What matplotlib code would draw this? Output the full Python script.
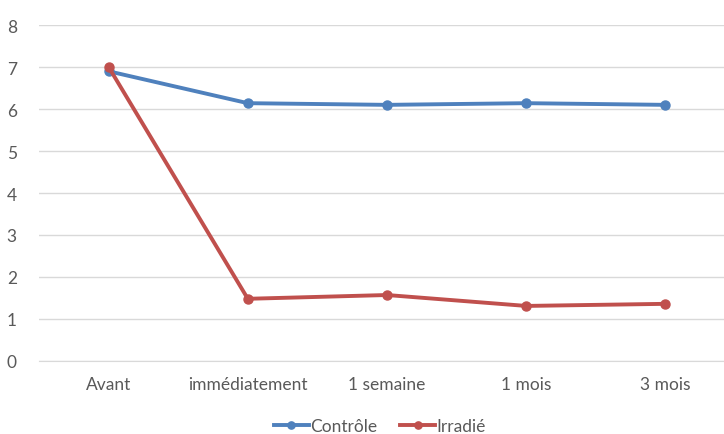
import matplotlib.pyplot as plt

categories = ['Avant', 'immédiatement', '1 semaine', '1 mois', '3 mois']
controle = [6.9, 6.14, 6.1, 6.14, 6.1]
irradie = [7.0, 1.48, 1.57, 1.31, 1.36]

plt.rcParams['font.family'] = ['Lato', 'DejaVu Sans']

fig = plt.figure(figsize=(7.24, 4.35), dpi=100)
# chart area is cropped on the right in the original
ax = fig.add_axes([0.054, 0.168, 0.961, 0.772])

x = range(len(categories))
ax.plot(x, controle, color='#4F81BD', lw=2.8, marker='o', ms=6.5, label='Contrôle', zorder=3)
ax.plot(x, irradie, color='#C0504D', lw=2.8, marker='o', ms=6.5, label='Irradié', zorder=3)

ax.set_xlim(-0.5, len(categories) - 0.5)
ax.set_ylim(0, 8)
ax.set_yticks(range(0, 9))
ax.set_xticks(list(x))
ax.set_xticklabels(categories)
ax.yaxis.grid(True, color='#D9D9D9', lw=1)
ax.set_axisbelow(True)
for s in ['top', 'right', 'left']:
    ax.spines[s].set_visible(False)
ax.spines['bottom'].set_color('#D9D9D9')
ax.tick_params(length=0, colors='#595959', labelsize=12.5)
ax.tick_params(axis='x', pad=11)
ax.tick_params(axis='y', pad=16)

fig.legend(loc='center', bbox_to_anchor=(0.525, 0.018), ncol=2, frameon=False,
           fontsize=12.5, labelcolor='#595959', handlelength=2.0, handletextpad=0.1,
           columnspacing=1.3, markerscale=0.8)

fig.savefig('out.png', dpi=100)
